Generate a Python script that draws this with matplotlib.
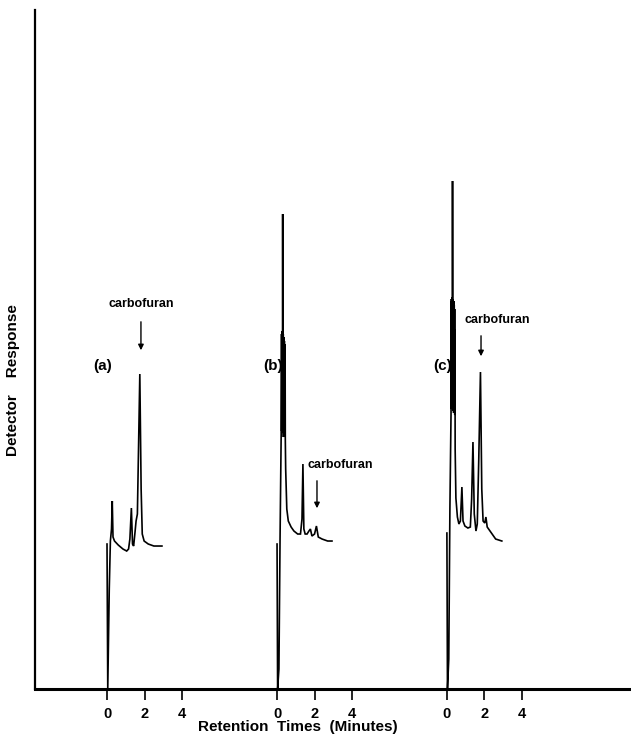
#!/usr/bin/env python3
# -*- coding: utf-8 -*-

import matplotlib
matplotlib.use("Agg")
import matplotlib.pyplot as plt

plt.rcParams['font.family'] = ['Liberation Sans', 'DejaVu Sans']
plt.rcParams['font.weight'] = 'bold'

# chromatogram (a): time (min), detector response (arbitrary, px-like)
time_a = [0.00, 0.04, 0.12, 0.18, 0.24, 0.28, 0.32, 0.40, 0.60, 0.85, 1.05, 1.15,
          1.22, 1.30, 1.36, 1.42, 1.50, 1.55, 1.62, 1.75, 1.82, 1.88, 1.98, 2.20,
          2.50, 2.93]
resp_a = [145, 0, 100, 148, 160, 188, 152, 148, 144, 140, 138, 140,
          150, 181, 145, 143, 158, 168, 175, 315, 200, 155, 148, 145,
          143, 143]

# chromatogram (b) -- the dense pen oscillation near 0.3 min is kept as typed points
time_b = [0.00, 0.03, 0.10, 0.16, 0.22, 0.24, 0.25, 0.26, 0.27, 0.28, 0.29, 0.30,
          0.31, 0.32, 0.33, 0.34, 0.35, 0.36, 0.37, 0.38, 0.39, 0.40, 0.41, 0.42,
          0.43, 0.44, 0.46, 0.52, 0.60, 0.75, 0.90, 1.10, 1.25, 1.33, 1.38, 1.43,
          1.50, 1.60, 1.70, 1.78, 1.86, 2.00, 2.10, 2.20, 2.40, 2.70, 2.93]
resp_b = [145, 0, 20, 150, 255, 355, 258, 352, 262, 358, 300, 475,
          350, 256, 355, 252, 350, 258, 352, 255, 348, 256, 345, 254,
          340, 250, 220, 180, 168, 162, 158, 155, 155, 170, 225, 160,
          155, 155, 158, 160, 153, 155, 163, 152, 150, 148, 148]

# chromatogram (c)
time_c = [0.00, 0.03, 0.10, 0.16, 0.22, 0.24, 0.25, 0.26, 0.27, 0.28, 0.29, 0.30,
          0.31, 0.32, 0.33, 0.34, 0.35, 0.36, 0.37, 0.38, 0.39, 0.40, 0.41, 0.42,
          0.43, 0.44, 0.48, 0.56, 0.64, 0.72, 0.80, 0.86, 0.96, 1.12, 1.25, 1.32,
          1.39, 1.46, 1.55, 1.62, 1.70, 1.79, 1.86, 1.93, 2.02, 2.08, 2.15, 2.30,
          2.60, 2.93]
resp_c = [156, 0, 30, 180, 275, 390, 280, 388, 282, 392, 320, 508,
          385, 278, 390, 282, 386, 276, 388, 280, 384, 278, 380, 274,
          360, 240, 191, 172, 165, 168, 202, 168, 163, 161, 162, 190,
          247, 175, 158, 165, 230, 317, 200, 168, 166, 172, 162, 158,
          150, 148]

offsets = [0.0, 9.07, 18.13]
panel_labels = ['(a)', '(b)', '(c)']
tick_minutes = [0, 2, 4]

fig = plt.figure(figsize=(6.31, 7.37), dpi=100)
ax = fig.add_axes([0.0555, 0.0651, 0.9445, 0.9213])

traces = [(time_a, resp_a), (time_b, resp_b), (time_c, resp_c)]
for (t, r), off in zip(traces, offsets):
    ax.plot([x + off for x in t], r, color='black', lw=1.2, solid_joinstyle='miter')

# tick positions and labels for each run
xt, xl = [], []
for off in offsets:
    for m in tick_minutes:
        xt.append(off + m)
        xl.append(str(m))
ax.set_xticks(xt)
ax.set_xticklabels(xl, fontsize=10.5, fontweight='bold')
ax.tick_params(axis='x', direction='out', length=8, width=1.2, pad=5)
ax.set_yticks([])

ax.set_xlim(-3.84, 27.95)
ax.set_ylim(0, 679)

ax.spines['top'].set_visible(False)
ax.spines['right'].set_visible(False)
ax.spines['bottom'].set_linewidth(2.2)
ax.spines['left'].set_linewidth(1.6)

# run labels
for lab, off in zip(panel_labels, offsets):
    ax.text(off - 0.21, 323, lab, fontsize=11, fontweight='bold', ha='center', va='center')

# carbofuran markers: (text x, text y, arrow x, arrow top, arrow bottom)
arrow_specs = [(1.81, 385, 1.81, 370, 336),
               (12.43, 224, 11.2, 211, 178),
               (20.8, 369, 19.95, 356, 330)]
for tx, ty, axx, top, bot in arrow_specs:
    ax.text(tx, ty, 'carbofuran', fontsize=9, fontweight='bold', ha='center', va='center')
    ax.annotate('', xy=(axx, bot), xytext=(axx, top),
                arrowprops=dict(arrowstyle='-|>', color='black', lw=1.0, mutation_scale=8))

ax.text((298 - 35) / 596, -(727 - 689) / 679, 'Retention  Times  (Minutes)',
        transform=ax.transAxes, fontsize=11, fontweight='bold', ha='center', va='center')
fig.text(13 / 631, 1 - 380 / 737, 'Detector    Response', rotation=90,
         fontsize=11, fontweight='bold', ha='center', va='center')

plt.savefig('out.png', dpi=100)
